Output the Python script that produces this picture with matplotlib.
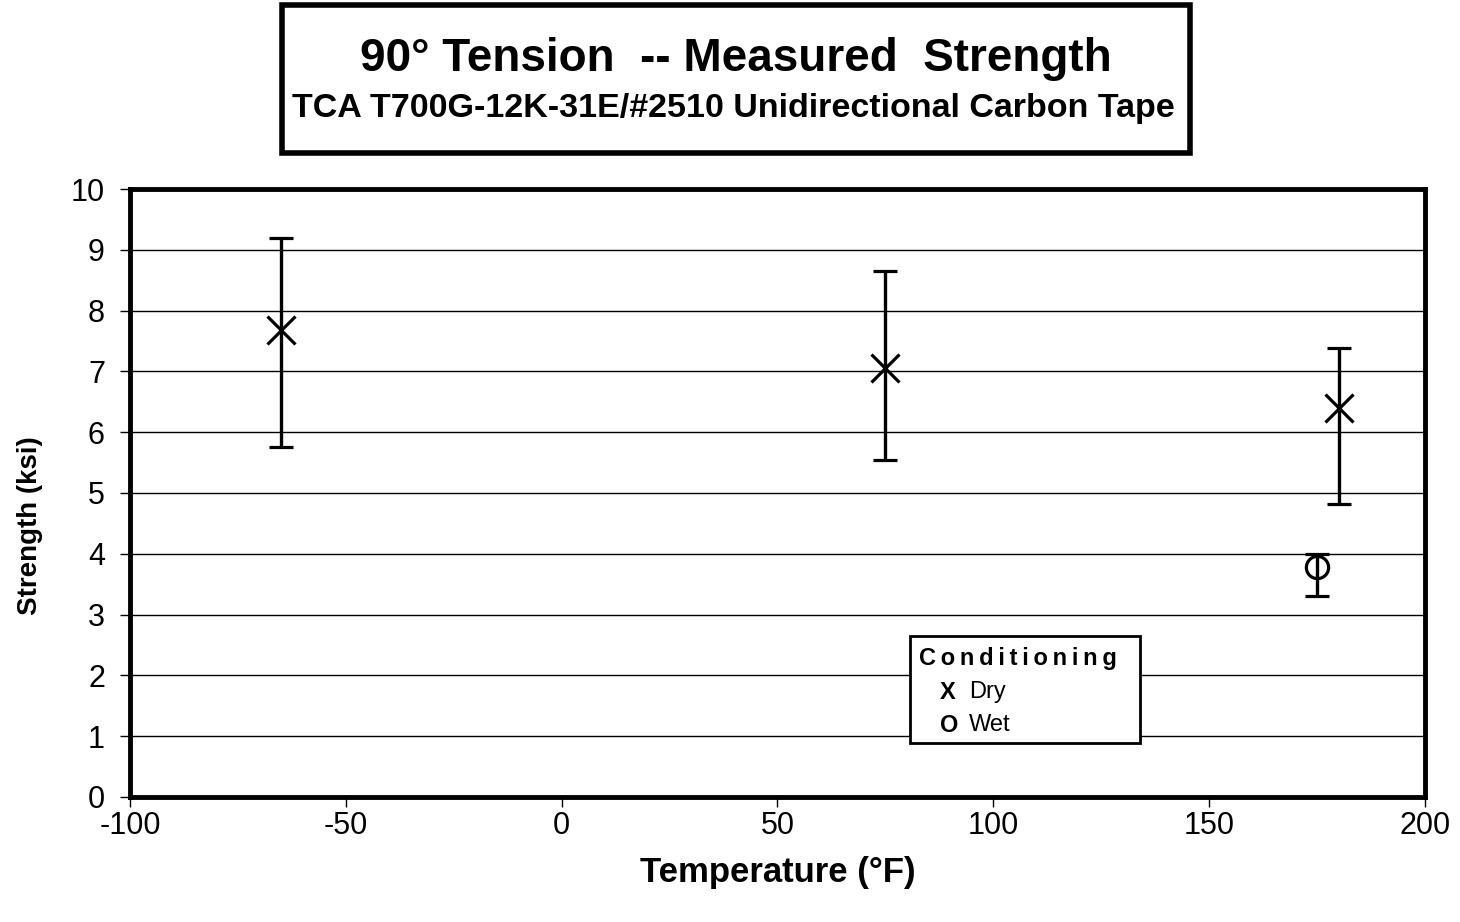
import matplotlib.pyplot as plt
from matplotlib.patches import Rectangle

plt.rcParams['font.family'] = ['Liberation Sans', 'DejaVu Sans']
plt.rcParams['axes.unicode_minus'] = False

# Dry specimens
dry_temp = [-65, 75, 180]
dry_strength = [7.68, 7.06, 6.40]
dry_low = [5.75, 5.55, 4.82]
dry_high = [9.20, 8.65, 7.38]

# Wet specimens
wet_temp = [175]
wet_strength = [3.78]
wet_low = [3.30]
wet_high = [4.00]

x_ticks = [-100, -50, 0, 50, 100, 150, 200]
y_ticks = list(range(0, 11))


def err(vals, lo, hi):
    return [[v - l for v, l in zip(vals, lo)], [h - v for v, h in zip(vals, hi)]]


fig = plt.figure(figsize=(14.6, 9.22), dpi=100)
ax = fig.add_axes([0.089, 0.1356, 0.887, 0.6594])

ax.errorbar(dry_temp, dry_strength, yerr=err(dry_strength, dry_low, dry_high),
            fmt='x', color='black', markersize=20, markeredgewidth=2.3,
            elinewidth=2.4, capsize=8.5, capthick=2.4, zorder=3)
ax.errorbar(wet_temp, wet_strength, yerr=err(wet_strength, wet_low, wet_high),
            fmt='o', color='black', markerfacecolor='none', markersize=16,
            markeredgewidth=2.3, elinewidth=2.4, capsize=8.5, capthick=2.4, zorder=3)

ax.set_xlim(-100, 200)
ax.set_ylim(0, 10)
ax.set_xticks(x_ticks)
ax.set_yticks(y_ticks)
ax.tick_params(direction='out', length=7, width=1, labelsize=22)
ax.tick_params(axis='x', pad=3)
ax.tick_params(axis='y', pad=11)
for s in ax.spines.values():
    s.set_linewidth(3.5)
ax.yaxis.grid(True, color='black', linewidth=1)
ax.set_axisbelow(True)

ax.set_xlabel('Temperature (°F)', fontsize=25, fontweight='bold')
ax.xaxis.set_label_coords(0.5, -0.125)
ax.set_ylabel('Strength (ksi)', fontsize=20, fontweight='bold')
ax.yaxis.set_label_coords(-0.077, 0.447)
ax.yaxis.label.set_va('center')
ax.xaxis.label.set_va('center')

# title box
fig.patches.append(Rectangle((282 / 1460, 1 - 153 / 922), 908 / 1460, 148 / 922,
                             transform=fig.transFigure, fill=False,
                             edgecolor='black', linewidth=4))
fig.text(736 / 1460, 1 - 59 / 922, '90° Tension  -- Measured  Strength',
         ha='center', va='center', fontsize=33, fontweight='bold')
fig.text(733 / 1460, 1 - 108 / 922, 'TCA T700G-12K-31E/#2510 Unidirectional Carbon Tape',
         ha='center', va='center', fontsize=24.5, fontweight='bold')

# legend box
fig.patches.append(Rectangle((910 / 1460, 1 - 743 / 922), 230 / 1460, 107 / 922,
                             transform=fig.transFigure, facecolor='white',
                             edgecolor='black', linewidth=2, zorder=5))
fig.text(1018 / 1460, 1 - 658 / 922, '\u2009'.join('Conditioning'), ha='center',
         va='center', fontsize=17, fontweight='bold', zorder=6)
fig.text(940 / 1460, 1 - 692 / 922, 'X', ha='left', va='center', fontsize=17,
         fontweight='bold', zorder=6)
fig.text(969 / 1460, 1 - 692 / 922, 'Dry', ha='left', va='center', fontsize=17, zorder=6)
fig.text(940 / 1460, 1 - 725 / 922, 'O', ha='left', va='center', fontsize=17,
         fontweight='bold', zorder=6)
fig.text(969 / 1460, 1 - 725 / 922, 'Wet', ha='left', va='center', fontsize=17, zorder=6)

fig.savefig('out.png', dpi=100)
